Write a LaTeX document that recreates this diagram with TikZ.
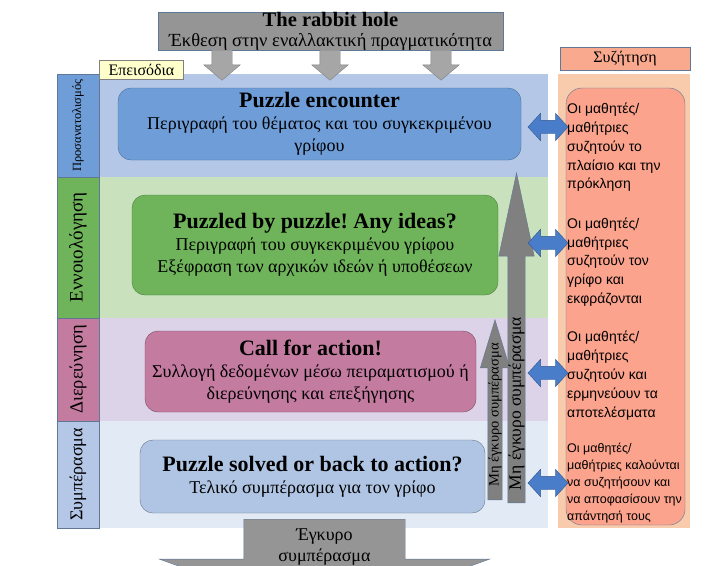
\documentclass[tikz,border=0pt]{standalone}
\usepackage{fontspec}
\setmainfont{Liberation Serif}
\newfontfamily\talkfont{Liberation Sans}
\usetikzlibrary{shapes.arrows,positioning}
\frenchspacing

\definecolor{holegray}{HTML}{959595}
\definecolor{edgeblue}{HTML}{5E7896}
\definecolor{arrowgray}{HTML}{A6A6A6}
\definecolor{arrowedge}{HTML}{808080}
\definecolor{episodeyellow}{HTML}{FFFFCC}
\definecolor{bandA}{HTML}{B4C7E7}
\definecolor{bandB}{HTML}{C9E2BD}
\definecolor{bandC}{HTML}{DCD3E9}
\definecolor{bandD}{HTML}{E2EAF5}
\definecolor{phaseA}{HTML}{6E9DD8}
\definecolor{phaseB}{HTML}{6FB35A}
\definecolor{phaseC}{HTML}{C47BA0}
\definecolor{phaseD}{HTML}{AFC5E3}
\definecolor{talkhead}{HTML}{F9A98E}
\definecolor{talkback}{HTML}{F8CBAD}
\definecolor{talkbox}{HTML}{FBA38C}
\definecolor{linkblue}{HTML}{4A7DC9}
\definecolor{upgray}{HTML}{808080}

\begin{document}
\begin{tikzpicture}[x=1pt,y=-1pt,
    phase/.style={draw, rounded corners=13pt, align=center, inner sep=0, font=\fontsize{18}{22}\selectfont},
    stage/.style={draw=edgeblue, rotate=90, inner sep=0, minimum height=42},
    downarrow/.style={single arrow, rotate=-90, fill=arrowgray, draw=arrowedge, inner xsep=0, inner ysep=10, minimum width=36, minimum height=30, single arrow head extend=8, single arrow tip angle=100, anchor=tail},
    uparrow/.style={single arrow, rotate=90, fill=upgray, draw=edgeblue, inner xsep=0, anchor=tail},
    link/.style={double arrow, fill=linkblue, draw=linkblue!70!black, inner xsep=0, inner ysep=6.5, minimum height=40, minimum width=27, double arrow head extend=7, double arrow tip angle=95},
    talk/.style={anchor=west, align=left, inner sep=0, font=\talkfont\fontsize{14}{18.8}\selectfont}
]
\useasboundingbox (0,0) rectangle (727,565);
\clip (0,0) rectangle (727,565);

% background bands
\fill[bandA] (99,74) rectangle (548,177);
\fill[bandB] (99,177) rectangle (548,318);
\fill[bandC] (99,318) rectangle (548,421);
\fill[bandD] (99,421) rectangle (548,528);
\fill[talkback] (558,74) rectangle (690,528);

% stage labels
\node[stage, fill=phaseA, minimum width=103, font=\fontsize{12.5}{14}\selectfont] (orient) at (78,125.5) {Προσανατολισμός};
\node[stage, fill=phaseB, minimum width=141, font=\fontsize{19}{22}\selectfont] (concept) at (78,247.5) {Εννοιολόγηση};
\node[stage, fill=phaseC, minimum width=103, font=\fontsize{18.5}{22}\selectfont] (inquiry) at (78,369.5) {Διερεύνηση};
\node[stage, fill=bandA, minimum width=107, font=\fontsize{18}{22}\selectfont] (conclude) at (78,474.5) {Συμπέρασμα};

% valid conclusion
\node[single arrow, rotate=-90, fill=holegray, draw=edgeblue, inner xsep=0, inner ysep=80.5, minimum width=330, minimum height=100, single arrow head extend=84.5, single arrow tip angle=140, anchor=tail] (valid) at (324.5,519) {};
\node[align=center, inner sep=0, font=\fontsize{18}{21}\selectfont] (validtext) at (324.5,547) {Έγκυρο\\συμπέρασμα};

% phases
\node[phase, fill=phaseA, draw=phaseA!70!black, minimum width=403, minimum height=72] (encounter) at (319.5,124)
    {{\fontsize{22}{24}\selectfont\bfseries Puzzle encounter}\\Περιγραφή του θέματος και του συγκεκριμένου\\γρίφου};
\node[phase, fill=phaseB, draw=phaseB!70!black, minimum width=366, minimum height=100] (puzzled) at (315,245)
    {{\fontsize{22}{24}\selectfont\bfseries Puzzled by puzzle! Any ideas?}\\Περιγραφή του συγκεκριμένου γρίφου\\Εξέφραση των αρχικών ιδεών ή υποθέσεων};
\node[phase, fill=phaseC, draw=phaseC!60!black, minimum width=331, minimum height=81] (action) at (310.5,371.5)
    {{\fontsize{22}{24}\selectfont\bfseries Call for action!}\\Συλλογή δεδομένων μέσω πειραματισμού ή\\διερεύνησης και επεξήγησης};
\node[phase, fill=phaseD, draw=phaseD!60!black, minimum width=345, minimum height=73] (solved) at (312.5,476.5)
    {{\fontsize{22}{24}\selectfont\bfseries Puzzle solved or back to action?}\\Τελικό συμπέρασμα για τον γρίφο};

% not valid conclusions
\node[uparrow, inner ysep=8.5, minimum height=330, minimum width=35, single arrow head extend=9, single arrow tip angle=24] (retryB) at (516.5,503) {};
\node[uparrow, inner ysep=7, minimum height=180, minimum width=29, single arrow head extend=7.5, single arrow tip angle=34] (retryA) at (495,500) {};
\node[rotate=90, inner sep=0, font=\fontsize{17.5}{20}\selectfont] (retryBtext) at (516.5,403.5) {Μη έγκυρο συμπέρασμα};
\node[rotate=90, inner sep=0, font=\fontsize{14.5}{17}\selectfont] (retryAtext) at (495,415) {Μη έγκυρο συμπέρασμα};

% rabbit hole
\node[draw=edgeblue, fill=holegray, minimum width=345, minimum height=38, inner sep=0, align=center, font=\fontsize{18.5}{20}\selectfont] (hole) at (330.5,31)
    {{\bfseries\fontsize{20.5}{20}\selectfont The rabbit hole}\\Έκθεση στην εναλλακτική πραγματικότητα};
\foreach \x [count=\i] in {222,330,441}
    \node[downarrow] (drop\i) at (\x,50) {};

\node[draw=arrowedge, fill=episodeyellow, minimum width=84, minimum height=19, inner sep=0, font=\fontsize{16}{18}\selectfont] (episodes) at (141.5,69.5) {Επεισόδια};

% discussion
\node[draw=edgeblue, fill=talkhead, minimum width=130, minimum height=23, inner sep=0, font=\fontsize{16}{18}\selectfont] (talk) at (625,58.5) {Συζήτηση};
\node[draw=edgeblue, fill=talkbox, rounded corners=16pt, minimum width=119, minimum height=437, inner sep=0] (talkbox) at (625.5,306.5) {};

\node[talk] (talkA) at (567,147.5) {Οι μαθητές/\\μαθήτριες\\συζητούν το\\πλαίσιο και την\\πρόκληση};
\node[talk] (talkB) at (567,262) {Οι μαθητές/\\μαθήτριες\\συζητούν τον\\γρίφο και\\εκφράζονται};
\node[talk] (talkC) at (567,375.5) {Οι μαθητές/\\μαθήτριες\\συζητούν και\\ερμηνεύουν τα\\αποτελέσματα};
\node[talk, font=\talkfont\fontsize{12.5}{17}\selectfont] (talkD) at (567,483) {Οι μαθητές/\\μαθήτριες καλούνται\\να συζητήσουν και\\να αποφασίσουν την\\απάντησή τους};

\foreach \y [count=\i] in {127,243,373,483}
    \node[link] (link\i) at (548,\y) {};

\end{tikzpicture}
\end{document}
